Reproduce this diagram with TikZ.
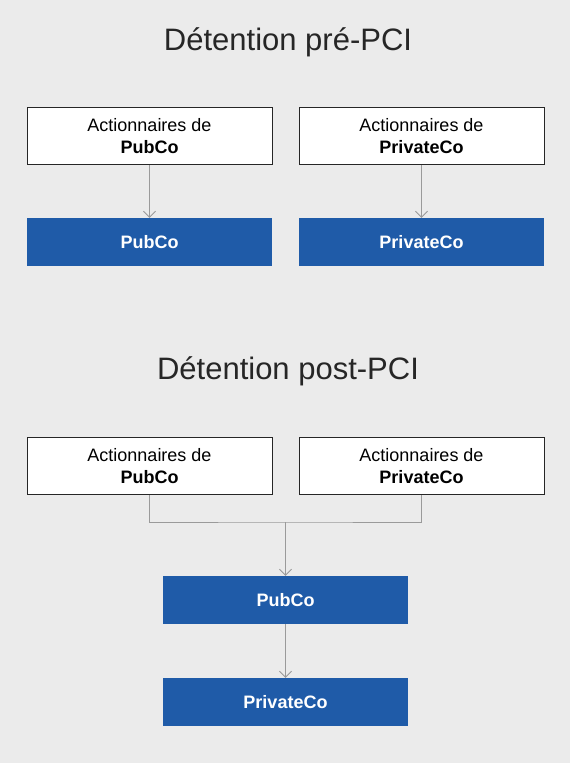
\documentclass[tikz,border=0pt]{standalone}
\usepackage{fontspec}
\setmainfont{Liberation Sans}
\usetikzlibrary{arrows.meta}
\definecolor{bg}{HTML}{EBEBEB}
\definecolor{pciblue}{HTML}{1F5BA8}
\definecolor{conn}{HTML}{9A9A9A}
\begin{document}
\begin{tikzpicture}[x=1pt,y=-1pt,
  holder/.style={draw=black!85,line width=0.8pt,fill=white,minimum width=245pt,minimum height=57pt,align=center,font=\fontsize{18}{22}\selectfont,inner sep=0pt},
  entity/.style={fill=pciblue,text=white,minimum width=245pt,minimum height=48pt,font=\fontsize{18}{22}\selectfont\bfseries,inner sep=0pt},
  title/.style={font=\fontsize{31}{36}\selectfont,text=black!85},
  link/.style={draw=conn,line width=0.8pt},
  arr/.style={link,-{Straight Barb[length=6pt,width=12pt,line width=0.8pt]}}]
\fill[bg] (0,0) rectangle (570,763);
\useasboundingbox (0,0) rectangle (570,763);
\node[title] (t1) at (288,42) {Détention pré-PCI};
\node[holder] (h1) at (149.5,136) {Actionnaires de\\\textbf{PubCo}};
\node[holder] (h2) at (421.5,136) {Actionnaires de\\\textbf{PrivateCo}};
\node[entity] (e1) at (149.5,242) {PubCo};
\node[entity] (e2) at (421.5,242) {PrivateCo};
\draw[arr] (h1) -- (e1);
\draw[arr] (h2) -- (e2);
\node[title] (t2) at (288,371) {Détention post-PCI};
\node[holder] (h3) at (149.5,466) {Actionnaires de\\\textbf{PubCo}};
\node[holder] (h4) at (421.5,466) {Actionnaires de\\\textbf{PrivateCo}};
\node[entity] (e3) at (285.5,600) {PubCo};
\node[entity] (e4) at (285.5,702) {PrivateCo};
\coordinate (j) at (285.5,522);
\draw[link] (h3.south) |- (j) -| (h4.south);
\draw[arr] (j) -- (e3);
\draw[arr] (e3) -- (e4);
\end{tikzpicture}
\end{document}
